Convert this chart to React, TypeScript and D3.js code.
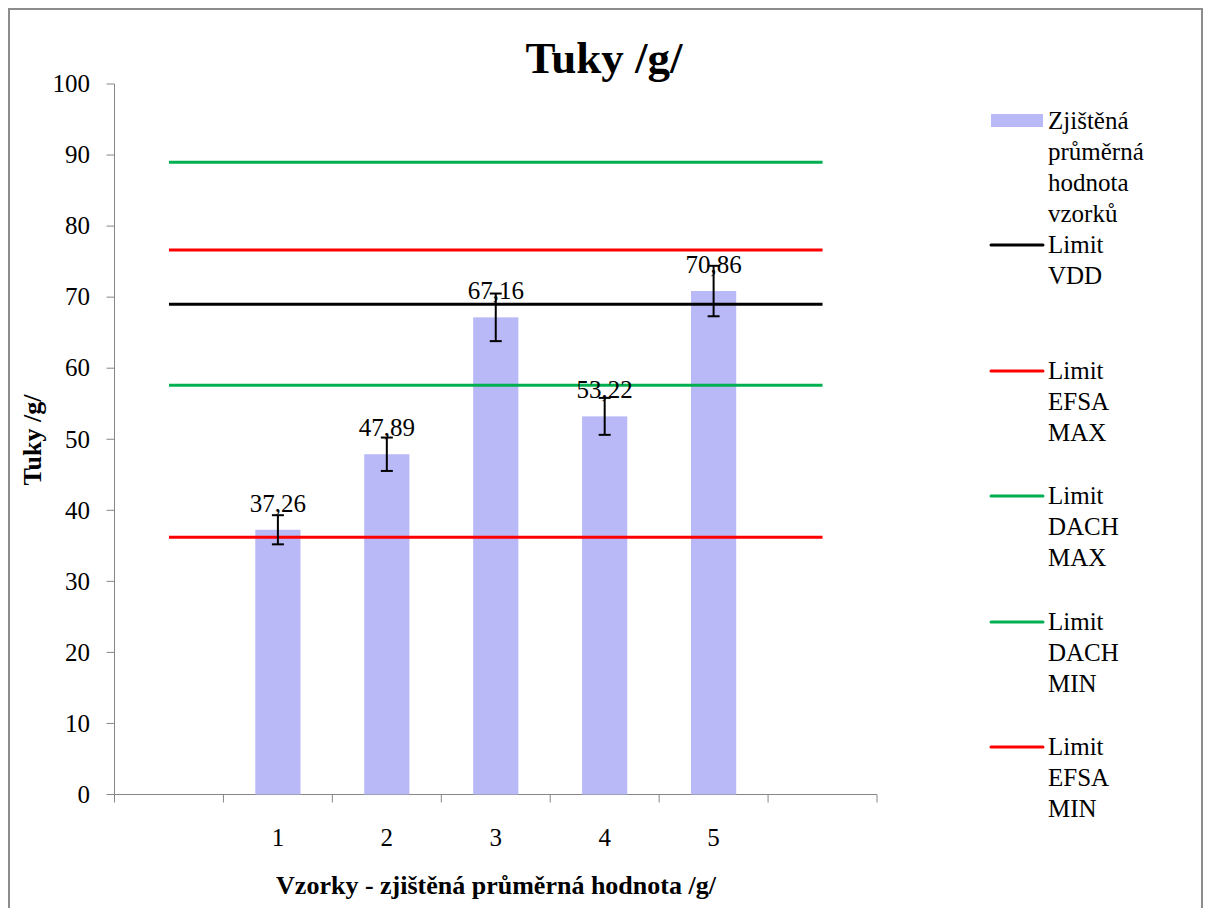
import React from "react";
import * as d3 from "d3";

const categories = ["", "1", "2", "3", "4", "5", ""];
const sampleValues: (number | null)[] = [null, 37.26, 47.89, 67.16, 53.22, 70.86, null];
const sampleErrors: (number | null)[] = [null, 2.05, 2.35, 3.35, 2.6, 3.55, null];
const valueLabels = ["", "37,26", "47,89", "67,16", "53,22", "70,86", ""];

const limitNames = ["Limit VDD", "Limit EFSA MAX", "Limit DACH MAX", "Limit DACH MIN", "Limit EFSA MIN"];
const limitValues = [69.0, 76.65, 89.0, 57.6, 36.2];
const limitColors = ["#000000", "#FF0000", "#00B050", "#00B050", "#FF0000"];
const legendLines: string[][] = [
  ["Zjištěná", "průměrná", "hodnota", "vzorků"],
  ["Limit", "VDD"],
  ["Limit", "EFSA", "MAX"],
  ["Limit", "DACH", "MAX"],
  ["Limit", "DACH", "MIN"],
  ["Limit", "EFSA", "MIN"],
];
const legendY = [121, 245, 371, 496, 622, 747];
const yTicks = [0, 10, 20, 30, 40, 50, 60, 70, 80, 90, 100];

const FONT = "Liberation Serif, DejaVu Serif, serif";
const BAR = "#B9B9F7";
const AXIS = "#868686";

export default function App() {
  const W = 1206, H = 908;
  const left = 114.5, right = 877, top = 84, bottom = 794.5;
  const x = d3.scaleBand<number>().domain(d3.range(categories.length)).range([left, right]).paddingInner(0).paddingOuter(0);
  const y = d3.scaleLinear().domain([0, 100]).range([bottom, top]);
  const bw = x.bandwidth();
  const barW = bw * 0.415;
  const cx = (i: number) => (x(i) as number) + bw / 2;
  const lineGen = d3.line<number>().x((_, i) => cx(i)).y((v) => y(v));
  const ts = { fontFamily: FONT } as React.CSSProperties;

  return (
    <svg width={W} height={H} style={{ position: "absolute", left: 0, top: 0, background: "#fff" }}>
      <rect x={9} y={9} width={1193} height={H + 10} fill="#fff" stroke="#8c8c8c" strokeWidth={2} />
      <text style={ts} x={604} y={73} textAnchor="middle" fontSize={45} fontWeight="bold">Tuky /g/</text>

      {/* y axis */}
      <line x1={left} x2={left} y1={top} y2={bottom} stroke={AXIS} strokeWidth={1} />
      {yTicks.map((t) => (
        <g key={t}>
          <line x1={left - 8} x2={left} y1={y(t)} y2={y(t)} stroke={AXIS} />
          <text style={ts} x={90} y={y(t)} dy="0.33em" textAnchor="end" fontSize={25}>{t}</text>
        </g>
      ))}
      <text style={ts} transform={`translate(41,440) rotate(-90)`} textAnchor="middle" fontSize={26} fontWeight="bold">Tuky /g/</text>

      {/* x axis */}
      <line x1={left} x2={right} y1={bottom} y2={bottom} stroke={AXIS} />
      {d3.range(categories.length + 1).map((i) => {
        const xx = i < categories.length ? (x(i) as number) : right;
        return <line key={i} x1={xx} x2={xx} y1={bottom} y2={bottom + 8} stroke={AXIS} />;
      })}
      {categories.map((c, i) => (
        <text style={ts} key={i} x={cx(i)} y={838} dy="0.33em" textAnchor="middle" fontSize={25}>{c}</text>
      ))}
      <text style={ts} x={496} y={894} textAnchor="middle" fontSize={26} fontWeight="bold">Vzorky - zjištěná průměrná hodnota /g/</text>

      {/* bars */}
      {sampleValues.map((v, i) =>
        v == null ? null : (
          <rect key={i} x={cx(i) - barW / 2} y={y(v)} width={barW} height={bottom - y(v)} fill={BAR} />
        )
      )}

      {/* limit lines */}
      {limitValues.map((v, k) => (
        <path key={k} d={lineGen(categories.map(() => v)) || ""} stroke={limitColors[k]} strokeWidth={3} fill="none" />
      ))}

      {/* error bars */}
      {sampleValues.map((v, i) => {
        const e = sampleErrors[i];
        if (v == null || e == null) return null;
        const c = cx(i);
        return (
          <g key={i} stroke="#000" strokeWidth={2}>
            <line x1={c} x2={c} y1={y(v + e)} y2={y(v - e)} />
            <line x1={c - 6} x2={c + 6} y1={y(v + e)} y2={y(v + e)} />
            <line x1={c - 6} x2={c + 6} y1={y(v - e)} y2={y(v - e)} />
          </g>
        );
      })}

      {/* value labels */}
      {sampleValues.map((v, i) =>
        v == null ? null : (
          <text style={ts} key={i} x={cx(i)} y={y(v) - 18} textAnchor="middle" fontSize={25}>{valueLabels[i]}</text>
        )
      )}

      {/* legend */}
      {legendLines.map((lines, k) => (
        <g key={k}>
          {k === 0 ? (
            <rect x={991} y={legendY[k] - 7} width={52} height={13} fill={BAR} />
          ) : (
            <line x1={991} x2={1043} y1={legendY[k]} y2={legendY[k]} stroke={limitColors[k - 1]} strokeWidth={3} strokeLinecap="round" />
          )}
          {lines.map((t, j) => (
            <text style={ts} key={j} x={1048} y={legendY[k] + j * 31} dy="0.33em" fontSize={25}>{t}</text>
          ))}
        </g>
      ))}
    </svg>
  );
}
